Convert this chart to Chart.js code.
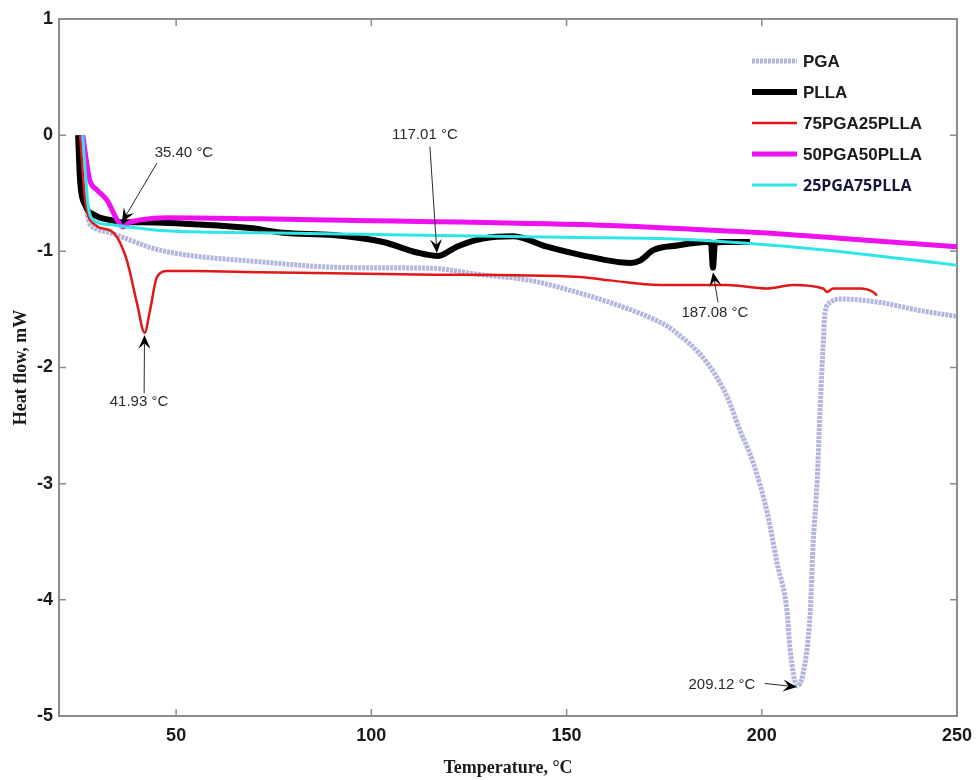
<!DOCTYPE html>
<html>
<head>
<meta charset="utf-8">
<script src="https://cdn.jsdelivr.net/npm/chart.js@4.4.1/dist/chart.umd.min.js"></script>
<style>
  html, body { margin: 0; padding: 0; background: #fff; }
  #wrap { width: 976px; height: 780px; }
</style>
</head>
<body>
<div id="wrap"><canvas id="c" width="976" height="780"></canvas></div>
<script>
// DSC curves: temperature (°C) and heat flow (mW)
const pgaT = [25.9, 26.7, 27.4, 29.2, 33.1, 45.9, 71.5, 94.5, 115.0, 127.8, 140.6, 153.4, 163.7, 173.9, 177.3, 186.0, 191.1, 194.4, 197.8, 201.4, 203.9, 206.5, 207.2, 209.1, 210.6, 212.4, 213.1, 214.2, 214.9, 215.7, 216.2, 217.5, 220.0, 230.3, 240.5, 250.0];
const pgaH = [0, -0.47, -0.71, -0.80, -0.84, -0.99, -1.09, -1.14, -1.145, -1.20, -1.25, -1.36, -1.47, -1.61, -1.68, -1.96, -2.25, -2.54, -2.82, -3.25, -3.68, -4.11, -4.41, -4.74, -4.63, -4.11, -3.55, -2.97, -2.39, -1.82, -1.53, -1.44, -1.41, -1.44, -1.51, -1.56];

const pllaT = [24.9, 25.4, 26.7, 29.2, 33.1, 36.1, 40.7, 56.1, 68.9, 77.4, 90.2, 103.0, 111.7, 117.1, 121.9, 128.6, 136.3, 145.0, 153.5, 166.3, 168.8, 172.2, 178.3, 186.0, 187.0, 187.5, 188.0, 190.1, 197.0];
const pllaH = [0, -0.39, -0.60, -0.69, -0.73, -0.75, -0.75, -0.77, -0.80, -0.84, -0.86, -0.92, -1.01, -1.04, -0.96, -0.89, -0.87, -0.96, -1.03, -1.10, -1.08, -0.99, -0.95, -0.92, -0.93, -1.14, -0.93, -0.92, -0.92];

const b7525T = [25.4, 26.7, 29.2, 33.1, 34.9, 37.4, 40.0, 41.93, 43.3, 45.1, 47.7, 54.3, 71.5, 111.7, 153.5, 161.1, 173.9, 191.1, 201.4, 208.0, 215.7, 216.7, 218.3, 225.2, 228.5, 229.5];
const b7525H = [0, -0.56, -0.77, -0.82, -0.88, -1.08, -1.45, -1.70, -1.51, -1.22, -1.17, -1.17, -1.18, -1.20, -1.22, -1.25, -1.29, -1.29, -1.32, -1.29, -1.32, -1.35, -1.32, -1.32, -1.35, -1.38];

const b5050T = [26.1, 27.2, 27.9, 29.7, 32.3, 34.9, 36.4, 38.2, 40.7, 47.7, 71.5, 89.4, 153.5, 182.4, 200.0, 225.0, 250.0];
const b5050H = [0, -0.26, -0.39, -0.47, -0.56, -0.73, -0.79, -0.75, -0.73, -0.71, -0.72, -0.73, -0.77, -0.81, -0.84, -0.90, -0.96];

const b2575T = [26.1, 26.7, 27.4, 28.7, 33.1, 37.4, 45.9, 71.5, 153.5, 173.9, 196.2, 216.7, 250.0];
const b2575H = [0, -0.30, -0.59, -0.73, -0.77, -0.79, -0.82, -0.84, -0.88, -0.89, -0.93, -0.99, -1.12];

const seriesNames = ["PGA", "PLLA", "75PGA25PLLA", "50PGA50PLLA", "25PGA75PLLA"];
const xTicks = [50, 100, 150, 200, 250];
const yTicks = [1, 0, -1, -2, -3, -4, -5];

// peak labels: text position, arrow start, arrow tip (data units)
const peaks = [
    { text: "35.40 °C", at: [52.0, -0.155], from: [45.1, -0.24], to: [36.1, -0.75] },
    { text: "41.93 °C", at: [40.5, -2.30], from: [41.8, -2.22], to: [41.9, -1.72] },
    { text: "117.01 °C", at: [113.7, 0.0], from: [115.0, -0.10], to: [116.8, -1.015] },
    { text: "187.08 °C", at: [188.0, -1.53], from: [188.8, -1.44], to: [187.5, -1.18] },
    { text: "209.12 °C", at: [189.8, -4.73], from: [200.8, -4.72], to: [209.0, -4.75] }
];

const pts = (xs, ys) => xs.map((x, i) => ({ x, y: ys[i] }));

const styles = [
    { color: "rgba(165,168,215,0.85)", width: 5, dash: [3, 1] },
    { color: "#000000", width: 6, dash: [] },
    { color: "#e01818", width: 2.5, dash: [] },
    { color: "#ee10ee", width: 5, dash: [] },
    { color: "#2ee6e6", width: 3, dash: [] }
];

const allData = [pts(pgaT, pgaH), pts(pllaT, pllaH), pts(b7525T, b7525H), pts(b5050T, b5050H), pts(b2575T, b2575H)];

const datasets = allData.map((d, i) => ({
    label: seriesNames[i],
    data: d,
    borderColor: styles[i].color,
    borderWidth: styles[i].width,
    borderDash: styles[i].dash,
    pointRadius: 0,
    fill: false,
    cubicInterpolationMode: "monotone",
    order: 5 - i
}));

const drawArrow = (ctx, x1, y1, x2, y2) => {
    const ang = Math.atan2(y2 - y1, x2 - x1);
    const len = 14, half = 6;
    ctx.strokeStyle = "#2a2a2a";
    ctx.lineWidth = 1;
    ctx.beginPath();
    ctx.moveTo(x1, y1);
    ctx.lineTo(x2 - Math.cos(ang) * 6, y2 - Math.sin(ang) * 6);
    ctx.stroke();
    ctx.save();
    ctx.translate(x2, y2);
    ctx.rotate(ang);
    ctx.fillStyle = "#000";
    ctx.beginPath();
    ctx.moveTo(0, 0);
    ctx.lineTo(-len, -half);
    ctx.lineTo(-len * 0.6, 0);
    ctx.lineTo(-len, half);
    ctx.closePath();
    ctx.fill();
    ctx.restore();
};

const framePlugin = {
    id: "frame",
    beforeDatasetsDraw(chart) {
        const { ctx, chartArea: a, scales } = chart;
        ctx.save();
        ctx.strokeStyle = "#8c8c8c";
        ctx.lineWidth = 2;
        ctx.strokeRect(a.left, a.top, a.right - a.left, a.bottom - a.top);
        ctx.lineWidth = 1.5;
        ctx.beginPath();
        xTicks.forEach((v) => {
            const px = scales.x.getPixelForValue(v);
            ctx.moveTo(px, a.bottom); ctx.lineTo(px, a.bottom - 7);
            ctx.moveTo(px, a.top); ctx.lineTo(px, a.top + 7);
        });
        yTicks.forEach((v) => {
            const py = scales.y.getPixelForValue(v);
            ctx.moveTo(a.left, py); ctx.lineTo(a.left + 7, py);
            ctx.moveTo(a.right, py); ctx.lineTo(a.right - 7, py);
        });
        ctx.stroke();
        ctx.restore();
    },
    afterDatasetsDraw(chart) {
        const { ctx, scales } = chart;
        const X = (v) => scales.x.getPixelForValue(v);
        const Y = (v) => scales.y.getPixelForValue(v);
        ctx.save();
        // peak labels
        ctx.font = "15px 'Liberation Sans', Arial, sans-serif";
        ctx.fillStyle = "#2a2a2a";
        ctx.textAlign = "center";
        ctx.textBaseline = "middle";
        peaks.forEach((p) => {
            ctx.fillText(p.text, X(p.at[0]), Y(p.at[1]));
            drawArrow(ctx, X(p.from[0]), Y(p.from[1]), X(p.to[0]), Y(p.to[1]));
        });
        // legend inside the plot, top right
        const lx = 752, lw = 45, ty = 61, gap = 31;
        chart.data.datasets.forEach((ds, i) => {
            const y = ty + i * gap;
            ctx.strokeStyle = ds.borderColor;
            ctx.lineWidth = ds.borderWidth;
            ctx.setLineDash(ds.borderDash);
            ctx.beginPath();
            ctx.moveTo(lx, y); ctx.lineTo(lx + lw, y);
            ctx.stroke();
            ctx.setLineDash([]);
            ctx.textAlign = "left";
            ctx.fillStyle = i === 4 ? "#15153a" : "#1a1a1a";
            ctx.font = i === 4 ? "bold 16px 'Open Sans', sans-serif" : "bold 17px 'Liberation Sans', Arial, sans-serif";
            ctx.fillText(ds.label, lx + lw + 6, y + 1);
        });
        ctx.restore();
    }
};

new Chart(document.getElementById("c"), {
    type: "line",
    data: { datasets },
    options: {
        responsive: false,
        animation: false,
        layout: { padding: { top: 19, right: 19, left: 0, bottom: 0 } },
        plugins: { legend: { display: false }, tooltip: { enabled: false } },
        scales: {
            x: {
                type: "linear",
                min: 20,
                max: 250,
                grid: { display: false, drawTicks: false },
                border: { display: false },
                afterBuildTicks: (s) => { s.ticks = xTicks.map((v) => ({ value: v })); },
                afterFit: (s) => { s.height = 64; s.paddingLeft = 0; s.paddingRight = 0; },
                ticks: {
                    padding: 9,
                    color: "#1a1a1a",
                    font: { family: "'Liberation Sans', Arial, sans-serif", size: 18, weight: "bold" }
                },
                title: {
                    display: true,
                    text: "Temperature, °C",
                    color: "#1a1a1a",
                    padding: { top: 1, bottom: 1 },
                    font: { family: "'Liberation Serif', 'Times New Roman', serif", size: 18, weight: "bold" }
                }
            },
            y: {
                type: "linear",
                min: -5,
                max: 1,
                grid: { display: false, drawTicks: false },
                border: { display: false },
                afterBuildTicks: (s) => { s.ticks = yTicks.map((v) => ({ value: v })); },
                afterFit: (s) => { s.width = 59; s.paddingTop = 0; s.paddingBottom = 0; },
                ticks: {
                    padding: 6,
                    color: "#1a1a1a",
                    font: { family: "'Liberation Sans', Arial, sans-serif", size: 18, weight: "bold" }
                },
                title: {
                    display: true,
                    text: "Heat flow, mW",
                    color: "#1a1a1a",
                    padding: { top: 11, bottom: 0 },
                    font: { family: "'Liberation Serif', 'Times New Roman', serif", size: 18, weight: "bold" }
                }
            }
        }
    },
    plugins: [framePlugin]
});
</script>
</body>
</html>
